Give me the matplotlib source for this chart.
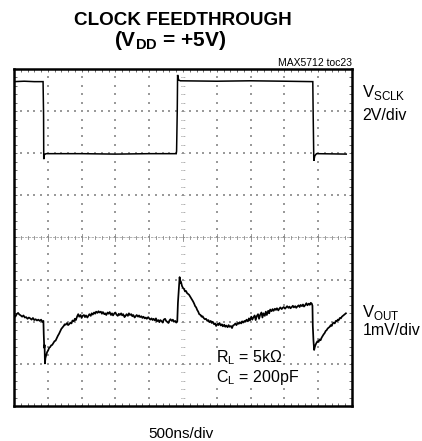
import numpy as np
import matplotlib
matplotlib.use("Agg")
import matplotlib.pyplot as plt
from matplotlib.ticker import MultipleLocator

plt.rcParams['mathtext.fontset'] = 'custom'
plt.rcParams['mathtext.rm'] = 'Liberation Sans'
plt.rcParams['mathtext.bf'] = 'Liberation Sans:bold'
plt.rcParams['font.family'] = ['Liberation Sans', 'DejaVu Sans']

# ---- data (screen divisions: 500ns/div horizontally) ----
# SCLK trace, 2V/div (vertical position in divisions from screen centre)
sclk_t = [0.00, 0.30, 0.60, 0.86, 0.875, 0.88, 0.90, 0.95, 2.00, 3.00, 4.00, 4.80,
          4.81, 4.83, 4.84, 4.87, 4.92, 6.00, 7.00, 8.00, 8.84, 8.85, 8.87, 8.90,
          8.95, 9.83]
sclk_v = [3.70, 3.71, 3.70, 3.70, 2.90, 1.86, 1.97, 1.99, 1.99, 1.98, 1.99, 1.99,
          2.05, 3.00, 3.86, 3.74, 3.72, 3.71, 3.72, 3.71, 3.70, 3.00, 1.82, 1.94,
          1.99, 1.98]

# VOUT trace, 1mV/div (vertical position in divisions from screen centre)
vout_t = [0.00, 0.04, 0.08, 0.12, 0.16, 0.20, 0.24, 0.28, 0.32, 0.36, 0.40, 0.44,
          0.48, 0.52, 0.56, 0.60, 0.64, 0.68, 0.72, 0.76, 0.80, 0.84, 0.87,
          0.88, 0.895, 0.905, 0.915, 0.93, 0.95, 0.98, 1.01, 1.04, 1.07, 1.10,
          1.13, 1.17, 1.20, 1.23, 1.27, 1.30, 1.33, 1.37, 1.40, 1.43, 1.47, 1.50,
          1.53, 1.57, 1.60, 1.63, 1.67, 1.70, 1.73, 1.77, 1.80, 1.83, 1.87, 1.90,
          1.93, 1.97, 2.00, 2.03, 2.07, 2.10, 2.13, 2.17, 2.20, 2.23, 2.27, 2.30,
          2.33, 2.37, 2.40, 2.43, 2.47, 2.50, 2.53, 2.57, 2.60, 2.63, 2.67, 2.70,
          2.73, 2.77, 2.80, 2.83, 2.87, 2.90, 2.93, 2.97, 3.00, 3.03, 3.07, 3.10,
          3.13, 3.17, 3.20, 3.23, 3.27, 3.30, 3.33, 3.37, 3.40, 3.43, 3.47, 3.50,
          3.53, 3.57, 3.60, 3.63, 3.67, 3.70, 3.73, 3.77, 3.80, 3.83, 3.87, 3.90,
          3.93, 3.97, 4.00, 4.03, 4.07, 4.10, 4.13, 4.17, 4.20, 4.23, 4.27, 4.30,
          4.33, 4.37, 4.40, 4.43, 4.47, 4.50, 4.53, 4.57, 4.60, 4.63, 4.67, 4.70,
          4.73, 4.77, 4.80, 4.83,
          4.85, 4.88, 4.90, 4.92, 4.94, 4.97, 5.00, 5.03, 5.06, 5.09, 5.12, 5.15,
          5.18, 5.21, 5.24, 5.27, 5.30, 5.33, 5.36, 5.39, 5.42, 5.45, 5.48, 5.52,
          5.55, 5.58, 5.62, 5.65, 5.68, 5.72, 5.75, 5.78, 5.82, 5.85, 5.88, 5.92,
          5.95, 5.98, 6.02, 6.05, 6.08, 6.12, 6.15, 6.18, 6.22, 6.25, 6.28, 6.32,
          6.35, 6.38, 6.42, 6.45, 6.48, 6.52, 6.55, 6.58, 6.62, 6.65, 6.68, 6.72,
          6.75, 6.78, 6.82, 6.85, 6.88, 6.92, 6.95, 6.98, 7.02, 7.05, 7.08, 7.12,
          7.15, 7.18, 7.22, 7.25, 7.28, 7.32, 7.35, 7.38, 7.42, 7.45, 7.48, 7.52,
          7.55, 7.58, 7.62, 7.65, 7.68, 7.72, 7.75, 7.78, 7.82, 7.85, 7.88, 7.92,
          7.95, 7.98, 8.02, 8.05, 8.08, 8.12, 8.15, 8.18, 8.22, 8.25, 8.28, 8.32,
          8.35, 8.38, 8.42, 8.45, 8.48, 8.52, 8.55, 8.58, 8.62, 8.65, 8.68, 8.72,
          8.75, 8.78, 8.81, 8.83,
          8.84, 8.86, 8.88, 8.90, 8.92, 8.95, 8.98, 9.01, 9.04, 9.07, 9.10, 9.13,
          9.16, 9.19, 9.22, 9.25, 9.28, 9.31, 9.34, 9.37, 9.40, 9.43, 9.46, 9.49,
          9.52, 9.55, 9.58, 9.61, 9.64, 9.67, 9.70, 9.73, 9.76, 9.79, 9.82]
vout_v = [-1.84, -1.88, -1.82, -1.79, -1.83, -1.85, -1.88, -1.85, -1.90, -1.89, -1.93, -1.90,
          -1.92, -1.95, -1.91, -1.96, -1.94, -1.97, -1.95, -1.98, -1.95, -2.00, -1.98,
          -2.30, -2.62, -2.55, -2.99, -2.86, -2.80, -2.72, -2.68, -2.62, -2.60, -2.56,
          -2.55, -2.50, -2.46, -2.45, -2.38, -2.33, -2.29, -2.22, -2.17, -2.14, -2.10, -2.06,
          -2.07, -2.03, -2.08, -2.06, -2.02, -2.04, -1.97, -1.99, -1.93, -1.96, -1.87, -1.82,
          -1.88, -1.84, -1.91, -1.86, -1.84, -1.89, -1.85, -1.90, -1.86, -1.82, -1.86, -1.80,
          -1.83, -1.78, -1.81, -1.76, -1.79, -1.75, -1.78, -1.76, -1.81, -1.77, -1.82, -1.80,
          -1.84, -1.78, -1.81, -1.77, -1.84, -1.80, -1.85, -1.80, -1.78, -1.83, -1.86, -1.81,
          -1.84, -1.80, -1.85, -1.82, -1.89, -1.86, -1.82, -1.86, -1.80, -1.84, -1.82, -1.87,
          -1.84, -1.90, -1.87, -1.84, -1.88, -1.85, -1.89, -1.87, -1.91, -1.88, -1.92, -1.90,
          -1.93, -1.89, -1.92, -1.95, -1.92, -1.96, -1.93, -1.97, -1.92, -1.99, -1.96, -2.01,
          -1.96, -1.99, -2.02, -1.95, -1.93, -1.98, -2.00, -2.03, -1.97, -1.94, -1.98, -1.95,
          -2.00, -1.98, -2.02, -2.00,
          -1.55, -1.20, -0.94, -1.08, -1.05, -1.15, -1.20, -1.22, -1.28, -1.27, -1.32, -1.34,
          -1.36, -1.40, -1.44, -1.48, -1.52, -1.57, -1.63, -1.66, -1.72, -1.76, -1.82, -1.84,
          -1.88, -1.87, -1.92, -1.94, -1.93, -1.98, -1.96, -2.01, -1.98, -2.03, -2.00, -2.06,
          -2.04, -2.10, -2.05, -2.08, -2.03, -2.09, -2.06, -2.11, -2.07, -2.12, -2.09, -2.13,
          -2.08, -2.12, -2.10, -2.15, -2.09, -2.07, -2.04, -2.08, -2.03, -2.05, -2.01, -2.04,
          -1.99, -2.02, -1.98, -2.00, -1.95, -1.99, -1.92, -1.97, -1.88, -1.95, -1.90, -1.85,
          -1.96, -1.87, -1.82, -1.93, -1.84, -1.78, -1.90, -1.80, -1.86, -1.76, -1.84, -1.74,
          -1.80, -1.71, -1.75, -1.70, -1.74, -1.69, -1.72, -1.68, -1.73, -1.69, -1.66, -1.70,
          -1.67, -1.65, -1.69, -1.66, -1.63, -1.67, -1.64, -1.68, -1.65, -1.62, -1.66, -1.63,
          -1.67, -1.64, -1.61, -1.65, -1.60, -1.63, -1.59, -1.64, -1.60, -1.56, -1.61, -1.57,
          -1.60, -1.55, -1.57, -1.62,
          -2.10, -2.45, -2.67, -2.60, -2.55, -2.50, -2.46, -2.48, -2.42, -2.44, -2.38, -2.34,
          -2.30, -2.27, -2.22, -2.20, -2.16, -2.14, -2.12, -2.08, -2.10, -2.04, -2.02, -2.04,
          -1.98, -1.99, -1.95, -1.96, -1.91, -1.92, -1.88, -1.86, -1.84, -1.82, -1.80]

n_xdiv = 10
n_ydiv = 8
sub = 0.2

W, H = 422, 441
fig = plt.figure(figsize=(W / 100, H / 100), dpi=100)
ax = fig.add_axes([14 / W, 1 - 406 / H, 338 / W, 337 / H])
ax.set_xlim(0, n_xdiv)
ax.set_ylim(-n_ydiv / 2, n_ydiv / 2)

# dotted graticule
grid_col = '#9a9a9a'
fine_x = np.arange(0, n_xdiv + 1e-9, sub)
fine_y = np.arange(-n_ydiv / 2, n_ydiv / 2 + 1e-9, sub)
for gy in range(-3, 4):
    if gy == 0:
        continue
    ax.scatter(fine_x, np.full_like(fine_x, gy), s=0.7, marker='s', color=grid_col,
               linewidths=0, zorder=1)
for gx in range(1, 10):
    if gx == 5:
        continue
    ax.scatter(np.full_like(fine_y, gx), fine_y, s=0.7, marker='s', color=grid_col,
               linewidths=0, zorder=1)
# centre horizontal axis with tick marks
ax.plot([0, n_xdiv], [0, 0], color='#a8a8a8', lw=0.6, dashes=(3, 1.2), zorder=1)
for fx in fine_x:
    ax.plot([fx, fx], [-0.04, 0.04], color='#8a8a8a', lw=0.6, zorder=1)
for gx in range(1, 10):
    ax.plot([gx, gx], [-0.08, 0.08], color='#8a8a8a', lw=0.6, zorder=1)
# centre vertical axis with tick marks
for fy in fine_y:
    ax.plot([4.94, 5.06], [fy, fy], color='#8a8a8a', lw=0.7, dashes=(0.7, 0.6), zorder=1)

# traces
ax.plot(sclk_t, sclk_v, color='black', lw=1.1, zorder=3, solid_joinstyle='miter')
ax.plot(vout_t, vout_v, color='black', lw=1.25, zorder=3)

# frame and border ticks
for sp in ax.spines.values():
    sp.set_linewidth(1.8)
    sp.set_color('black')
ax.xaxis.set_major_locator(MultipleLocator(sub))
ax.yaxis.set_major_locator(MultipleLocator(sub))
ax.tick_params(which='both', direction='in', top=True, right=True, length=2,
               width=0.6, color='#555555', labelbottom=False, labelleft=False)


def ftxt(x, y, s, **kw):
    return fig.text(x / W, 1 - y / H, s, **kw)


ftxt(183, 25, 'CLOCK FEEDTHROUGH', ha='center', va='baseline', fontsize=13.6,
     fontweight='bold')
ftxt(170, 46.5, r'(V$_{\mathbf{DD}}$ = +5V)', ha='center', va='baseline', fontsize=15,
     fontweight='bold')
ftxt(351.5, 65.7, 'MAX5712 toc23', ha='right', va='baseline', fontsize=7.5)

ftxt(362, 97.3, r'V$_{\mathrm{SCLK}}$', ha='left', va='baseline', fontsize=12)
ftxt(362, 120, '2V/div', ha='left', va='baseline', fontsize=11.5)
ftxt(362.5, 316.7, r'V$_{\mathrm{OUT}}$', ha='left', va='baseline', fontsize=12)
ftxt(362.5, 335, '1mV/div', ha='left', va='baseline', fontsize=11.5)

bb = dict(facecolor='white', edgecolor='none', pad=0.6)
ftxt(215.5, 362.7, r'R$_{\mathrm{L}}$ = 5kΩ', ha='left', va='baseline', fontsize=11.5,
     bbox=bb, zorder=5)
ftxt(215.5, 381.7, r'C$_{\mathrm{L}}$ = 200pF', ha='left', va='baseline', fontsize=11.5,
     bbox=bb, zorder=5)

ftxt(181, 438.3, '500ns/div', ha='center', va='baseline', fontsize=11)

fig.savefig('out.png', dpi=100)
